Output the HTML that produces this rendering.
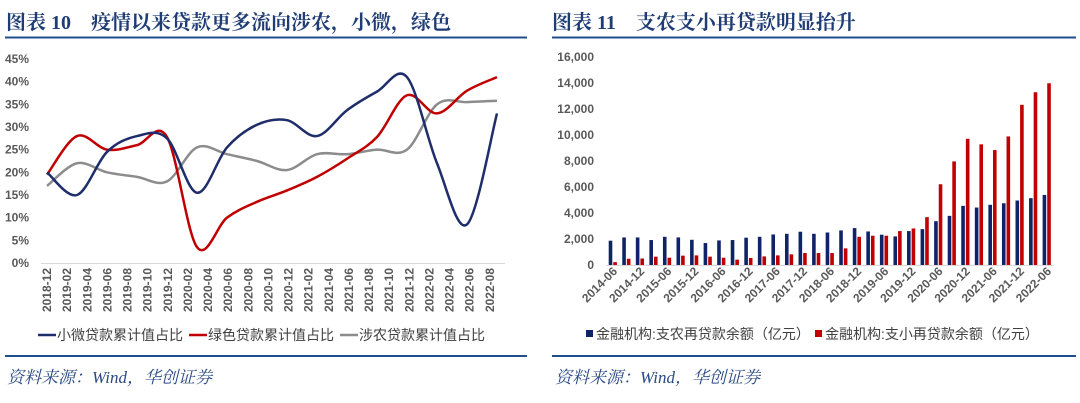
<!DOCTYPE html>
<html><head><meta charset="utf-8"><style>
body{margin:0;background:#fff;width:1080px;height:403px;overflow:hidden}
svg{display:block}
.t{font-family:"Liberation Serif","Noto Serif CJK SC",serif;font-weight:bold;font-size:20px;fill:#1f3c74}
.f{font-family:"Liberation Serif","Noto Serif CJK SC",serif;font-style:italic;font-size:17px;fill:#2a4a84}
.ax{font-family:"Liberation Sans","Noto Sans CJK SC",sans-serif;font-size:12px;fill:#595959;font-weight:bold}
.lg{font-family:"Liberation Sans","Noto Sans CJK SC",sans-serif;font-size:14px;fill:#404040}
</style></head><body>
<svg id="s" width="1080" height="403">
<text class="t" x="6" y="29">图表 10　疫情以来贷款更多流向涉农，小微，绿色</text>
<rect x="5" y="36.5" width="522" height="2" fill="#1f4e8c"/>
<text class="t" x="552" y="29">图表 11　支农支小再贷款明显抬升</text>
<rect x="552" y="36.5" width="524" height="2" fill="#1f4e8c"/>
<rect x="5" y="355" width="522" height="2" fill="#1f4e8c"/>
<rect x="552" y="355" width="524" height="2" fill="#1f4e8c"/>
<text class="f" x="7" y="383">资料来源：Wind，华创证券</text>
<text class="f" x="555" y="383">资料来源：Wind，华创证券</text>
<g id="L"></g>
<g id="R"></g>
</svg>
<script>
const lineCats=["2018-12","2019-03","2019-06","2019-09","2019-12","2020-03","2020-06","2020-09","2020-12","2021-03","2021-06","2021-09","2021-12","2022-03","2022-06","2022-09"];
const xTickLabels=["2018-12","2019-02","2019-04","2019-06","2019-08","2019-10","2019-12","2020-02","2020-04","2020-06","2020-08","2020-10","2020-12","2021-02","2021-04","2021-06","2021-08","2021-10","2021-12","2022-02","2022-04","2022-06","2022-08"];
const smallMicro=[20,15,24.5,28,27.5,15.5,25.5,30.5,31.5,28,33.7,37.8,41,22,8.5,33];
const green=[19.5,28,25,26,27.8,3.5,10,13.5,16,19,23,27.8,37,33,38,41];
const agri=[17,22,20,19,18,25.5,24,22.5,20.5,24,24,25,25,35,35.5,35.8];
const yTicks=[0,5,10,15,20,25,30,35,40,45];
const barCats=["2014-06","2014-09","2014-12","2015-03","2015-06","2015-09","2015-12","2016-03","2016-06","2016-09","2016-12","2017-03","2017-06","2017-09","2017-12","2018-03","2018-06","2018-09","2018-12","2019-03","2019-06","2019-09","2019-12","2020-03","2020-06","2020-09","2020-12","2021-03","2021-06","2021-09","2021-12","2022-03","2022-06"];
const agriRelend=[1870,2120,2120,1920,2170,2120,1940,1690,1890,1920,2100,2170,2350,2400,2560,2400,2500,2660,2840,2580,2330,2200,2610,2760,3370,3780,4550,4420,4630,4750,4960,5140,5390];
const smallRelend=[220,480,500,640,560,720,740,640,560,410,540,660,740,820,920,920,920,1280,2170,2250,2250,2610,2810,3680,6210,7970,9710,9280,8840,9890,12320,13290,13980];
const barTicks=[0,2000,4000,6000,8000,10000,12000,14000,16000];
const NS="http://www.w3.org/2000/svg";
function mk(p,t,a){const e=document.createElementNS(NS,t);for(const k in a)e.setAttribute(k,a[k]);p.appendChild(e);return e;}
// left
const L=document.getElementById('L');
const lx=i=>47+i*30, ly=v=>263-v*(204/45);
yTicks.forEach(v=>{const t=mk(L,'text',{x:29,y:ly(v)+4,'text-anchor':'end',class:'ax'});t.textContent=v+'%';

});
const la=mk(L,'line',{x1:41,x2:505,y1:263.5,y2:263.5,stroke:'#d9d9d9'});


xTickLabels.forEach((s,i)=>{const x=47+i*20.13;const t=mk(L,'text',{transform:`translate(${x+4},268) rotate(-90)`,'text-anchor':'end',class:'ax'});t.textContent=s;

});
function smooth(pts){let d=`M${pts[0][0]},${pts[0][1]}`;for(let i=0;i<pts.length-1;i++){const p0=pts[i-1]||pts[i],p1=pts[i],p2=pts[i+1],p3=pts[i+2]||p2;const c1=[p1[0]+(p2[0]-p0[0])/6,p1[1]+(p2[1]-p0[1])/6],c2=[p2[0]-(p3[0]-p1[0])/6,p2[1]-(p3[1]-p1[1])/6];d+=`C${c1},${c2},${p2}`;}return d;}
[[agri,'#8c8c8c','agri-loan-line'],[green,'#c00000','green-loan-line'],[smallMicro,'#1f2d6b','small-micro-loan-line']].forEach(([a,c,n])=>{const p=mk(L,'path',{d:smooth(a.map((v,i)=>[lx(i),ly(v)])),fill:'none',stroke:c,'stroke-width':2.5});

});
[['#1f2d6b','小微贷款累计值占比',38],['#c00000','绿色贷款累计值占比',189],['#8c8c8c','涉农贷款累计值占比',340]].forEach(([c,s,x])=>{const g=mk(L,'g',{});


mk(g,'line',{x1:x,x2:x+18,y1:335,y2:335,stroke:c,'stroke-width':2.5});const t=mk(g,'text',{x:x+19,y:340,class:'lg'});t.textContent=s;});
// right
const R=document.getElementById('R');
const bx=i=>613+i*13.56, by=v=>265-v*(208/16000);
barTicks.forEach(v=>{const t=mk(R,'text',{x:594,y:by(v)+4,'text-anchor':'end',class:'ax'});t.textContent=v.toLocaleString('en-US');

});
const ra=mk(R,'line',{x1:606,x2:1054,y1:265.5,y2:265.5,stroke:'#d9d9d9'});


barCats.forEach((c,i)=>{const b=mk(R,'rect',{x:bx(i)-4.3,y:by(agriRelend[i]),width:3.6,height:265-by(agriRelend[i]),fill:'#0f2468'});


const r=mk(R,'rect',{x:bx(i)+0.3,y:by(smallRelend[i]),width:3.6,height:265-by(smallRelend[i]),fill:'#c00000'});


if(i%2===0){const t=mk(R,'text',{transform:`translate(${bx(i)+5},272) rotate(-45)`,'text-anchor':'end',class:'ax'});t.textContent=c;

}});
[['#0f2468','金融机构:支农再贷款余额（亿元）',586],['#c00000','金融机构:支小再贷款余额（亿元）',815]].forEach(([c,s,x])=>{const g=mk(R,'g',{});


mk(g,'rect',{x:x,y:330,width:7,height:7,fill:c});const t=mk(g,'text',{x:x+10,y:339,class:'lg'});t.textContent=s;});
</script>
</body></html>
